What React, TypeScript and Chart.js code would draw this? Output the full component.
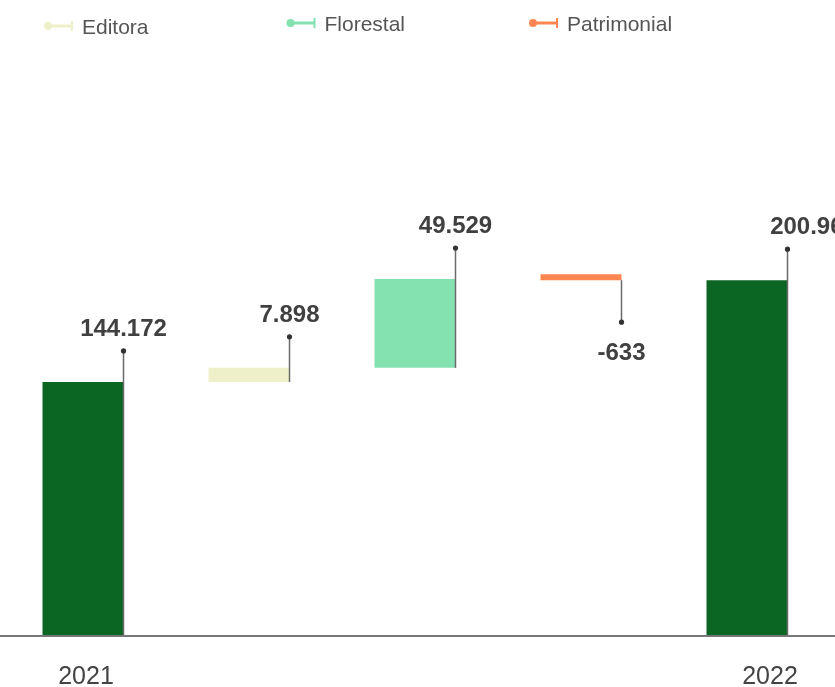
import React, { useEffect, useRef } from "react";
import { Chart, registerables } from "chart.js";

Chart.register(...registerables);

// ---- data ----
const categories = ["2021", "Editora", "Florestal", "Patrimonial", "2022"];
const values = [144172, 7898, 49529, -633, 200966];
const isTotal = [true, false, false, false, true];
const xTickLabels = ["2021", "", "", "", "2022"];
const legendLabels = ["Editora", "Florestal", "Patrimonial"];

// ---- styles ----
const barColors = ["#0c6623", "#edf0c9", "#84e1b0", "#ff8650", "#0c6623"];
const legendColors = ["#edf0c9", "#84e1b0", "#ff8650"];
const TEXT = "#404040";

function fmt(n: number): string {
  const s = Math.abs(n).toString().replace(/\B(?=(\d{3})+(?!\d))/g, ".");
  return (n < 0 ? "-" : "") + s;
}

// floating ranges built from the data
function buildRanges(): [number, number][] {
  const out: [number, number][] = [];
  let running = 0;
  values.forEach((v, i) => {
    if (isTotal[i]) {
      out.push([0, v]);
      running = v;
    } else {
      out.push([running, running + v]);
      running += v;
    }
  });
  return out;
}

const decorPlugin = {
  id: "decor",
  beforeDraw(chart: any) {
    const ctx = chart.ctx;
    ctx.save();
    ctx.fillStyle = "#ffffff";
    ctx.fillRect(0, 0, chart.width, chart.height);
    ctx.restore();
  },
  afterDatasetsDraw(chart: any) {
    const ctx = chart.ctx;
    const meta = chart.getDatasetMeta(0);
    const area = chart.chartArea;
    ctx.save();
    // baseline
    const by = Math.round(area.bottom) + 1;
    ctx.strokeStyle = "#777777";
    ctx.lineWidth = 2;
    ctx.beginPath();
    ctx.moveTo(0, by);
    ctx.lineTo(chart.width, by);
    ctx.stroke();

    const valueShift = [0, 0, 0, 0, 26];
    meta.data.forEach((el: any, i: number) => {
      const p = el.getProps(["x", "y", "base", "width"], true);
      const right = p.x + p.width / 2;
      const top = Math.min(p.y, p.base);
      const bottom = Math.min(Math.max(p.y, p.base), area.bottom);
      const v = values[i];
      let dotY: number;
      ctx.strokeStyle = "#6a6a6a";
      ctx.lineWidth = 1.5;
      ctx.fillStyle = TEXT;
      ctx.font = "bold 24px 'Liberation Sans', Arial, sans-serif";
      ctx.textAlign = "center";
      ctx.textBaseline = "alphabetic";
      if (v >= 0) {
        dotY = top - 31;
        ctx.beginPath();
        ctx.moveTo(right, dotY);
        ctx.lineTo(right, bottom);
        ctx.stroke();
        ctx.fillText(fmt(v), right + valueShift[i], dotY - 15);
      } else {
        dotY = bottom + 42;
        ctx.beginPath();
        ctx.moveTo(right, bottom);
        ctx.lineTo(right, dotY);
        ctx.stroke();
        ctx.fillText(fmt(v), right + valueShift[i], dotY + 38);
      }
      ctx.fillStyle = "#333333";
      ctx.beginPath();
      ctx.arc(right, dotY, 2.6, 0, Math.PI * 2);
      ctx.fill();
    });

    // x tick labels
    const xScale = chart.scales.x;
    const labelShift = [3, 0, 0, 0, 23];
    ctx.fillStyle = "#444444";
    ctx.font = "25px 'Liberation Sans', Arial, sans-serif";
    ctx.textAlign = "center";
    xTickLabels.forEach((t, i) => {
      if (!t) return;
      ctx.fillText(t, xScale.getPixelForValue(i) + labelShift[i], 684);
    });

    // legend
    const startX = 44;
    const colW = 242.5;
    const yOff = [3, 0, 0];
    ctx.font = "21px 'Liberation Sans', Arial, sans-serif";
    ctx.textAlign = "left";
    legendLabels.forEach((lab, i) => {
      const x0 = startX + i * colW;
      const cy = 23 + yOff[i];
      const c = legendColors[i];
      ctx.strokeStyle = c;
      ctx.fillStyle = c;
      ctx.lineWidth = 3;
      ctx.beginPath();
      ctx.moveTo(x0 + 3, cy);
      ctx.lineTo(x0 + 28, cy);
      ctx.stroke();
      ctx.lineWidth = 2;
      ctx.beginPath();
      ctx.moveTo(x0 + 28, cy - 5);
      ctx.lineTo(x0 + 28, cy + 5);
      ctx.stroke();
      ctx.beginPath();
      ctx.arc(x0 + 4, cy, 4, 0, Math.PI * 2);
      ctx.fill();
      ctx.fillStyle = "#555555";
      ctx.fillText(lab, x0 + 38, cy + 8);
    });
    ctx.restore();
  },
};

export default function App() {
  const ref = useRef<HTMLCanvasElement | null>(null);
  useEffect(() => {
    if (!ref.current) return;
    const chart = new Chart(ref.current, {
      type: "bar",
      data: {
        labels: categories,
        datasets: [
          {
            data: buildRanges() as any,
            backgroundColor: barColors,
            borderWidth: 0,
            barPercentage: 0.488,
            categoryPercentage: 1,
            minBarLength: 6,
          },
        ],
      },
      options: {
        animation: false,
        responsive: false,
        devicePixelRatio: 1,
        layout: { padding: { left: 0, right: 50, top: 74, bottom: 52 } },
        plugins: { legend: { display: false }, tooltip: { enabled: false } },
        scales: {
          x: { display: false },
          y: { display: false, min: 3000, max: 316000 },
        },
      },
      plugins: [decorPlugin],
    });
    return () => chart.destroy();
  }, []);
  return (
    <div
      style={{
        position: "fixed",
        left: 0,
        top: 0,
        width: 835,
        height: 687,
        overflow: "hidden",
        background: "#fff",
      }}
    >
      <canvas ref={ref} width={880} height={687} style={{ display: "block" }} />
    </div>
  );
}
